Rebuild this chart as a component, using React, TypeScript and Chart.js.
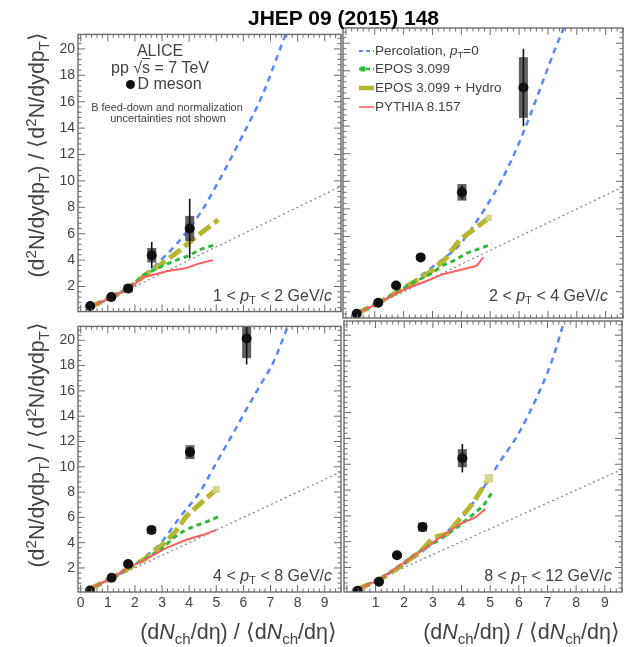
import React, { useEffect, useRef } from "react";
import { Chart, registerables } from "chart.js";

Chart.register(...registerables);

const FONT = "'Liberation Sans', Arial, Helvetica, sans-serif";
const INK = "#424242";

// ---------- axes ----------
const X_MIN = -0.1;
const X_MAX = 9.6;
const Y_MIN = 0.1;
const Y_MAX = 21.1;
const xTickLabelsLeft = [0, 1, 2, 3, 4, 5, 6, 7, 8, 9];
const xTickLabelsRight = [1, 2, 3, 4, 5, 6, 7, 8, 9];
const yTickLabels = [2, 4, 6, 8, 10, 12, 14, 16, 18, 20];

// y = x reference
const diagX = [0, 9.6];
const diagY = [0, 9.6];

// ---------- 1 < pT < 2 GeV/c ----------
const dX_1_2 = [0.35, 1.13, 1.75, 2.62, 4.02];
const dY_1_2 = [0.53, 1.2, 1.85, 4.37, 6.4];
const dStat_1_2 = [0.1, 0.15, 0.35, 1.0, 2.25];
const dSyst_1_2 = [0.08, 0.15, 0.3, 0.55, 0.95];
const percX_1_2 = [0.3, 1, 1.5, 2.3, 2.8, 3.53, 4.39, 5.12, 5.86, 6.72, 7.52, 7.7];
const percY_1_2 = [0.35, 1.05, 1.6, 2.7, 3.7, 5.2, 7.5, 10.1, 13.0, 16.6, 20.9, 21.8];
const eposX_1_2 = [0.3, 1.1, 1.75, 2.3, 2.8, 3.4, 4.0, 4.4, 5.0];
const eposY_1_2 = [0.4, 1.15, 1.85, 2.85, 3.35, 3.9, 4.35, 4.8, 5.2];
const hydroX_1_2 = [0.3, 1.1, 1.75, 2.4, 3.04, 3.66, 4.27, 5.07];
const hydroY_1_2 = [0.4, 1.15, 1.85, 2.9, 3.8, 4.75, 5.8, 7.05];
const pythiaX_1_2 = [0.3, 1.1, 1.75, 2.3, 3.17, 3.9, 4.4, 4.88];
const pythiaY_1_2 = [0.4, 1.15, 1.8, 2.69, 3.16, 3.4, 3.77, 4.0];

// ---------- 2 < pT < 4 GeV/c ----------
const dX_2_4 = [0.375, 1.12, 1.74, 2.59, 4.02, 6.15];
const dY_2_4 = [0.41, 1.2, 2.45, 4.49, 9.2, 16.79];
const dStat_2_4 = [0.08, 0.12, 0.15, 0.2, 0.5, 2.8];
const dSyst_2_4 = [0.08, 0.12, 0.15, 0.2, 0.6, 2.2];
const percX_2_4 = [0.3, 1, 1.5, 2, 2.5, 3, 3.5, 3.9, 4.4, 4.9, 5.4, 5.9, 6.35, 6.8, 7.25, 7.55, 7.7];
const percY_2_4 = [0.35, 1.05, 1.6, 2.2, 3.0, 3.8, 4.6, 5.3, 6.7, 8.3, 10.1, 12.3, 14.6, 17.1, 19.6, 21.1, 21.9];
const eposX_2_4 = [0.35, 1.1, 1.75, 2.4, 2.95, 3.34, 3.74, 4.2, 4.66, 5.06];
const eposY_2_4 = [0.4, 1.15, 1.95, 2.75, 3.3, 3.9, 4.25, 4.8, 5.15, 5.45];
const hydroX_2_4 = [0.35, 1.1, 1.75, 2.4, 3.0, 3.5, 3.96, 4.58, 4.95];
const hydroY_2_4 = [0.4, 1.15, 1.95, 2.75, 3.55, 4.5, 5.8, 6.75, 7.35];
const pythiaX_2_4 = [0.35, 1.1, 1.75, 2.3, 2.82, 3.39, 3.85, 4.53, 4.76];
const pythiaY_2_4 = [0.4, 1.15, 1.9, 2.4, 2.8, 3.29, 3.52, 3.88, 4.5];

// ---------- 4 < pT < 8 GeV/c ----------
const dX_4_8 = [0.34, 1.14, 1.75, 2.61, 4.03, 6.12];
const dY_4_8 = [0.22, 1.23, 2.31, 5.0, 11.16, 20.14];
const dStat_4_8 = [0.05, 0.1, 0.15, 0.2, 0.4, 2.05];
const dSyst_4_8 = [0.08, 0.12, 0.2, 0.3, 0.55, 1.55];
const percX_4_8 = [0.3, 1, 1.5, 2, 2.5, 3, 3.65, 4.39, 5.0, 5.61, 6.1, 6.66, 7.09, 7.58, 7.7];
const percY_4_8 = [0.3, 1.05, 1.6, 2.25, 3.1, 4.1, 6.0, 8.0, 10.3, 12.6, 14.5, 16.6, 18.2, 20.8, 21.5];
const eposX_4_8 = [0.3, 1.1, 1.75, 2.4, 3.0, 3.4, 3.77, 4.14, 4.63, 5.06];
const eposY_4_8 = [0.3, 1.15, 2.0, 2.75, 3.5, 4.36, 4.87, 5.26, 5.64, 6.03];
const hydroX_4_8 = [0.3, 1.1, 1.75, 2.4, 3.16, 3.5, 3.9, 4.39, 5.0];
const hydroY_4_8 = [0.3, 1.15, 1.95, 2.75, 4.1, 4.9, 6.1, 7.05, 8.2];
const pythiaX_4_8 = [0.3, 1.1, 1.75, 2.4, 3.16, 3.9, 4.51, 5.0];
const pythiaY_4_8 = [0.3, 1.15, 2.0, 2.7, 3.59, 4.23, 4.62, 5.0];

// ---------- 8 < pT < 12 GeV/c ----------
const dX_8_12 = [0.377, 1.12, 1.75, 2.64, 4.03];
const dY_8_12 = [0.2, 0.89, 2.95, 5.13, 10.47];
const dStat_8_12 = [0.05, 0.1, 0.15, 0.25, 1.1];
const dSyst_8_12 = [0.08, 0.12, 0.2, 0.35, 0.7];
const percX_8_12 = [0.3, 1, 1.5, 2, 2.5, 3, 3.5, 4.03, 4.77, 5.28, 5.97, 6.71, 7.2, 7.57, 7.7];
const percY_8_12 = [0.3, 1.0, 1.6, 2.25, 3.0, 3.9, 4.8, 5.9, 8.2, 10.0, 12.3, 15.6, 18.3, 21.0, 21.9];
const eposX_8_12 = [0.35, 1.1, 1.75, 2.6, 3.29, 3.9, 4.43, 4.77, 5.06];
const eposY_8_12 = [0.3, 1.0, 2.0, 3.33, 4.23, 5.2, 6.16, 6.8, 7.8];
const hydroX_8_12 = [0.35, 1.1, 1.75, 2.6, 3.0, 3.5, 4.0, 4.4, 4.95];
const hydroY_8_12 = [0.3, 1.0, 1.9, 3.3, 4.3, 4.6, 5.9, 7.0, 8.9];
const pythiaX_8_12 = [0.35, 1.1, 1.75, 2.6, 3.3, 3.86, 4.09, 4.49, 4.83];
const pythiaY_8_12 = [0.3, 1.0, 2.0, 3.3, 4.4, 5.26, 5.51, 5.9, 6.54];

// ---------- colours ----------
const C_PERC = "rgb(85,135,255)";
const C_EPOS = "rgb(45,185,60)";
const C_HYDRO = "rgb(182,182,48)";
const C_HYDRO_END = "rgba(214,214,140,0.95)";
const C_PYTHIA = "rgb(255,95,95)";

type Panel = {
  key: string;
  left: number;
  top: number;
  width: number;
  height: number;
  pad: { left: number; right: number; top: number; bottom: number };
  yAxisW: number;
  xAxisH: number;
  showX: boolean;
  showY: boolean;
  xTicks: number[];
  d: { x: number[]; y: number[]; stat: number[]; syst: number[] };
  perc: [number[], number[]];
  epos: [number[], number[]];
  hydro: [number[], number[]];
  pythia: [number[], number[]];
  hydroEnd: number;
};

const PANELS: Panel[] = [
  {
    key: "p12", left: 0, top: 23, width: 346, height: 300,
    pad: { left: 0, right: 4, top: 4, bottom: 4 }, yAxisW: 78, xAxisH: 0,
    showX: false, showY: true, xTicks: xTickLabelsLeft,
    d: { x: dX_1_2, y: dY_1_2, stat: dStat_1_2, syst: dSyst_1_2 },
    perc: [percX_1_2, percY_1_2], epos: [eposX_1_2, eposY_1_2],
    hydro: [hydroX_1_2, hydroY_1_2], pythia: [pythiaX_1_2, pythiaY_1_2], hydroEnd: 0,
  },
  {
    key: "p24", left: 338, top: 23, width: 290, height: 300,
    pad: { left: 4, right: 4, top: 4, bottom: 4 }, yAxisW: 0, xAxisH: 0,
    showX: false, showY: false, xTicks: xTickLabelsRight,
    d: { x: dX_2_4, y: dY_2_4, stat: dStat_2_4, syst: dSyst_2_4 },
    perc: [percX_2_4, percY_2_4], epos: [eposX_2_4, eposY_2_4],
    hydro: [hydroX_2_4, hydroY_2_4], pythia: [pythiaX_2_4, pythiaY_2_4], hydroEnd: 4.5,
  },
  {
    key: "p48", left: 0, top: 315, width: 346, height: 305,
    pad: { left: 0, right: 4, top: 4, bottom: 0 }, yAxisW: 78, xAxisH: 28,
    showX: true, showY: true, xTicks: xTickLabelsLeft,
    d: { x: dX_4_8, y: dY_4_8, stat: dStat_4_8, syst: dSyst_4_8 },
    perc: [percX_4_8, percY_4_8], epos: [eposX_4_8, eposY_4_8],
    hydro: [hydroX_4_8, hydroY_4_8], pythia: [pythiaX_4_8, pythiaY_4_8], hydroEnd: 5,
  },
  {
    key: "p812", left: 338, top: 315, width: 290, height: 305,
    pad: { left: 4, right: 4, top: 4, bottom: 0 }, yAxisW: 0, xAxisH: 28,
    showX: true, showY: false, xTicks: xTickLabelsRight,
    d: { x: dX_8_12, y: dY_8_12, stat: dStat_8_12, syst: dSyst_8_12 },
    perc: [percX_8_12, percY_8_12], epos: [eposX_8_12, eposY_8_12],
    hydro: [hydroX_8_12, hydroY_8_12], pythia: [pythiaX_8_12, pythiaY_8_12], hydroEnd: 6,
  },
];

function xy(xs: number[], ys: number[]) {
  return xs.map((x, i) => ({ x, y: ys[i] }));
}

function buildConfig(p: Panel): any {
  const errorPlugin = {
    id: "dmesonErrors",
    beforeDatasetDraw(chart: any, args: any) {
      if (args.index !== 0) return;
      const { ctx, chartArea: a, scales } = chart;
      const xs = scales.x;
      const ys = scales.y;
      ctx.save();
      ctx.beginPath();
      ctx.rect(a.left, a.top, a.right - a.left, a.bottom - a.top);
      ctx.clip();
      p.d.x.forEach((xv, i) => {
        const px = xs.getPixelForValue(xv);
        const yv = p.d.y[i];
        const s1 = ys.getPixelForValue(yv + p.d.syst[i]);
        const s2 = ys.getPixelForValue(yv - p.d.syst[i]);
        ctx.fillStyle = "rgba(75,75,75,0.88)";
        ctx.fillRect(px - 4.5, s1, 9, s2 - s1);
        ctx.strokeStyle = "#111";
        ctx.lineWidth = 1.6;
        ctx.beginPath();
        ctx.moveTo(px, ys.getPixelForValue(yv + p.d.stat[i]));
        ctx.lineTo(px, ys.getPixelForValue(yv - p.d.stat[i]));
        ctx.stroke();
      });
      ctx.restore();
    },
  };

  const framePlugin = {
    id: "rootFrame",
    afterDatasetsDraw(chart: any) {
      const { ctx, chartArea: a, scales } = chart;
      const xs = scales.x;
      const ys = scales.y;
      ctx.save();
      ctx.strokeStyle = "#6c6c6c";
      ctx.lineWidth = 1;
      ctx.beginPath();
      for (let k = Math.ceil(X_MIN / 0.2); k * 0.2 <= X_MAX + 1e-9; k++) {
        const px = xs.getPixelForValue(k * 0.2);
        const L = k % 5 === 0 ? 7 : 3.5;
        ctx.moveTo(px, a.bottom);
        ctx.lineTo(px, a.bottom - L);
        ctx.moveTo(px, a.top);
        ctx.lineTo(px, a.top + L);
      }
      for (let k = Math.ceil(Y_MIN / 0.4); k * 0.4 <= Y_MAX + 1e-9; k++) {
        const py = ys.getPixelForValue(k * 0.4);
        const L = k % 5 === 0 ? 7 : 3.5;
        ctx.moveTo(a.left, py);
        ctx.lineTo(a.left + L, py);
        ctx.moveTo(a.right, py);
        ctx.lineTo(a.right - L, py);
      }
      ctx.stroke();
      ctx.lineWidth = 1.4;
      ctx.strokeRect(a.left, a.top, a.right - a.left, a.bottom - a.top);
      ctx.restore();
    },
  };

  const hydroRadius = p.hydro[0].map((_, i) => (p.hydroEnd > 0 && i === p.hydro[0].length - 1 ? p.hydroEnd : 0));

  return {
    type: "scatter",
    data: {
      datasets: [
        {
          label: "D meson",
          data: xy(p.d.x, p.d.y),
          showLine: false,
          pointRadius: 5,
          pointHoverRadius: 5,
          pointBackgroundColor: "#111",
          pointBorderColor: "#111",
          pointBorderWidth: 0,
        },
        {
          label: "PYTHIA 8.157",
          data: xy(p.pythia[0], p.pythia[1]),
          showLine: true,
          borderColor: C_PYTHIA,
          borderWidth: 2,
          pointRadius: 0,
          tension: 0,
        },
        {
          label: "EPOS 3.099",
          data: xy(p.epos[0], p.epos[1]),
          showLine: true,
          borderColor: C_EPOS,
          borderWidth: 3,
          borderDash: [5, 4],
          pointRadius: 0,
          tension: 0,
        },
        {
          label: "EPOS 3.099 + Hydro",
          data: xy(p.hydro[0], p.hydro[1]),
          showLine: true,
          borderColor: C_HYDRO,
          borderWidth: 5,
          borderDash: [14, 5],
          pointRadius: hydroRadius,
          pointStyle: "rect",
          pointBackgroundColor: C_HYDRO_END,
          pointBorderWidth: 0,
          tension: 0,
        },
        {
          label: "Percolation, pT=0",
          data: xy(p.perc[0], p.perc[1]),
          showLine: true,
          borderColor: C_PERC,
          borderWidth: 2.5,
          borderDash: [6, 5],
          pointRadius: 0,
          cubicInterpolationMode: "monotone",
        },
        {
          label: "y = x",
          data: xy(diagX, diagY),
          showLine: true,
          borderColor: "#8a8a8a",
          borderWidth: 1.3,
          borderDash: [2, 3],
          pointRadius: 0,
        },
      ],
    },
    options: {
      animation: false,
      responsive: false,
      maintainAspectRatio: false,
      events: [],
      layout: { padding: p.pad },
      plugins: { legend: { display: false }, tooltip: { enabled: false }, title: { display: false } },
      scales: {
        x: {
          type: "linear",
          min: X_MIN,
          max: X_MAX,
          afterBuildTicks: (s: any) => {
            s.ticks = p.xTicks.map((v) => ({ value: v }));
          },
          afterFit: (s: any) => {
            s.height = p.xAxisH;
          },
          grid: { display: false, drawTicks: false },
          border: { display: false },
          ticks: {
            display: p.showX,
            autoSkip: false,
            maxRotation: 0,
            padding: 3,
            color: INK,
            font: { family: FONT, size: 14 },
          },
        },
        y: {
          type: "linear",
          min: Y_MIN,
          max: Y_MAX,
          afterBuildTicks: (s: any) => {
            s.ticks = yTickLabels.map((v) => ({ value: v }));
          },
          afterFit: (s: any) => {
            s.width = p.yAxisW;
          },
          grid: { display: false, drawTicks: false },
          border: { display: false },
          ticks: {
            display: p.showY,
            autoSkip: false,
            padding: 3,
            color: INK,
            font: { family: FONT, size: 14 },
          },
        },
      },
    },
    plugins: [errorPlugin, framePlugin],
  };
}

const subStyle: React.CSSProperties = { fontSize: "0.7em", verticalAlign: "-0.3em", lineHeight: 0 };
const supStyle: React.CSSProperties = { fontSize: "0.7em", verticalAlign: "0.5em", lineHeight: 0 };

function PT() {
  return (
    <>
      <i>p</i>
      <span style={subStyle}>T</span>
    </>
  );
}

function Txt(props: {
  x: number;
  y: number;
  size: number;
  align: "left" | "center" | "right";
  children: React.ReactNode;
  weight?: number;
  color?: string;
}) {
  const lh = Math.round(props.size * 1.3);
  const style: React.CSSProperties = {
    position: "absolute",
    top: props.y - lh / 2,
    lineHeight: `${lh}px`,
    height: lh,
    fontSize: props.size,
    whiteSpace: "nowrap",
    fontWeight: props.weight ?? 400,
    color: props.color ?? INK,
  };
  if (props.align === "left") style.left = props.x;
  if (props.align === "right") style.right = 630 - props.x;
  if (props.align === "center") {
    style.left = props.x;
    style.transform = "translateX(-50%)";
  }
  return <div style={style}>{props.children}</div>;
}

function YTitle({ top }: { top: number }) {
  const W = 320;
  const H = 26;
  return (
    <div
      style={{
        position: "absolute",
        left: 37 - H / 2 - W,
        top,
        width: W,
        height: H,
        lineHeight: `${H}px`,
        fontSize: 21.5,
        textAlign: "right",
        whiteSpace: "nowrap",
        transformOrigin: "top right",
        transform: "rotate(-90deg)",
        color: INK,
      }}
    >
      (d<span style={supStyle}>2</span>N/dydp<span style={subStyle}>T</span>) / ⟨d<span style={supStyle}>2</span>N/dydp
      <span style={subStyle}>T</span>⟩
    </div>
  );
}

function XTitle({ right }: { right: number }) {
  return (
    <Txt x={right} y={632} size={21.5} align="right">
      (d<i>N</i>
      <span style={subStyle}>ch</span>/dη) / ⟨d<i>N</i>
      <span style={subStyle}>ch</span>/dη⟩
    </Txt>
  );
}

function LegendSym({ kind }: { kind: string }) {
  if (kind === "perc")
    return (
      <svg width="15" height="8">
        <line x1="0" y1="4" x2="15" y2="4" stroke={C_PERC} strokeWidth="2.2" strokeDasharray="4 3" />
      </svg>
    );
  if (kind === "epos")
    return (
      <svg width="15" height="8">
        <line x1="0" y1="4" x2="15" y2="4" stroke={C_EPOS} strokeWidth="2.6" strokeDasharray="4 3" />
        <rect x="1.5" y="1.5" width="5" height="5" fill={C_EPOS} />
      </svg>
    );
  if (kind === "hydro")
    return (
      <svg width="15" height="8">
        <line x1="0" y1="4" x2="15" y2="4" stroke={C_HYDRO} strokeWidth="4.5" />
      </svg>
    );
  return (
    <svg width="15" height="8">
      <line x1="0" y1="4" x2="15" y2="4" stroke={C_PYTHIA} strokeWidth="1.6" />
    </svg>
  );
}

const legendItems: { kind: string; y: number; label: React.ReactNode }[] = [
  { kind: "perc", y: 50.7, label: <>Percolation, <PT />=0</> },
  { kind: "epos", y: 69.3, label: <>EPOS 3.099</> },
  { kind: "hydro", y: 88.3, label: <>EPOS 3.099 + Hydro</> },
  { kind: "pythia", y: 107.3, label: <>PYTHIA 8.157</> },
];

export default function App() {
  const refs = useRef<(HTMLCanvasElement | null)[]>([]);

  useEffect(() => {
    const charts = PANELS.map((p, i) => new Chart(refs.current[i] as HTMLCanvasElement, buildConfig(p)));
    return () => charts.forEach((c) => c.destroy());
  }, []);

  return (
    <div
      style={{
        position: "absolute",
        left: 0,
        top: 0,
        width: 630,
        height: 647,
        background: "#fff",
        overflow: "hidden",
        fontFamily: FONT,
        color: INK,
      }}
    >
      {PANELS.map((p, i) => (
        <canvas
          key={p.key}
          ref={(el) => {
            refs.current[i] = el;
          }}
          width={p.width}
          height={p.height}
          style={{ position: "absolute", left: p.left, top: p.top, width: p.width, height: p.height }}
        />
      ))}

      <Txt x={343.5} y={17.5} size={21} align="center" weight={700} color="#000">
        JHEP 09 (2015) 148
      </Txt>

      {/* ALICE block */}
      <Txt x={160} y={50} size={16} align="center">ALICE</Txt>
      <Txt x={160} y={67} size={16} align="center">
        pp √<span style={{ textDecoration: "overline" }}>s</span> = 7 TeV
      </Txt>
      <Txt x={125.5} y={83} size={16} align="left">
        <span
          style={{
            display: "inline-block",
            width: 9,
            height: 9,
            borderRadius: "50%",
            background: "#111",
            marginRight: 3,
            verticalAlign: "0px",
          }}
        />
        D meson
      </Txt>
      <Txt x={167} y={107} size={11} align="center">B feed-down and normalization</Txt>
      <Txt x={168} y={117.5} size={11} align="center">uncertainties not shown</Txt>

      {/* legend */}
      {legendItems.map((it) => (
        <React.Fragment key={it.kind}>
          <div style={{ position: "absolute", left: 359, top: it.y - 4, width: 15, height: 8, lineHeight: 0 }}>
            <LegendSym kind={it.kind} />
          </div>
          <Txt x={375} y={it.y} size={13.5} align="left">
            {it.label}
          </Txt>
        </React.Fragment>
      ))}

      {/* pT bin labels */}
      <Txt x={332} y={295} size={16} align="right">
        1 &lt; <PT /> &lt; 2 GeV/<i>c</i>
      </Txt>
      <Txt x={608} y={295} size={16} align="right">
        2 &lt; <PT /> &lt; 4 GeV/<i>c</i>
      </Txt>
      <Txt x={332} y={575} size={16} align="right">
        4 &lt; <PT /> &lt; 8 GeV/<i>c</i>
      </Txt>
      <Txt x={612} y={575} size={16} align="right">
        8 &lt; <PT /> &lt; 12 GeV/<i>c</i>
      </Txt>

      <YTitle top={32} />
      <YTitle top={322} />
      <XTitle right={337} />
      <XTitle right={620} />
    </div>
  );
}
